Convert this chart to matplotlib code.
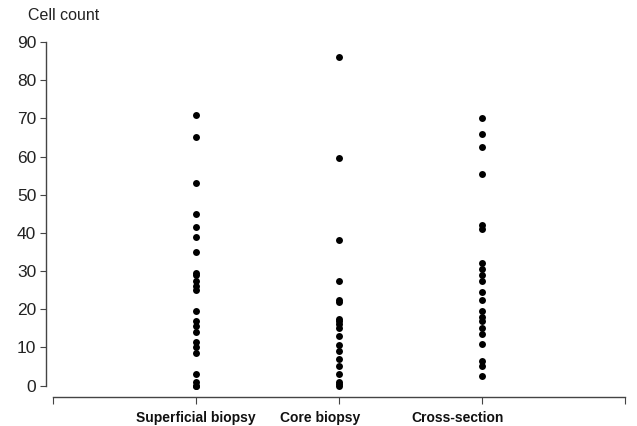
import matplotlib.pyplot as plt
import matplotlib.transforms as mtransforms

plt.rcParams['font.family'] = ['Liberation Sans', 'DejaVu Sans']

# data
categories = ["Superficial biopsy", "Core biopsy", "Cross-section"]
superficial = [71, 65, 53, 45, 41.5, 39, 35, 29.5, 29, 27.5, 26, 25,
               19.5, 17, 15.5, 14, 11.5, 10, 8.5, 3, 1, 0, 0]
core = [86, 59.5, 38, 27.5, 22.5, 22, 17.5, 17, 16, 15, 13, 10.5,
        9, 7, 5, 3, 1, 0.5, 0]
cross = [70, 66, 62.5, 55.5, 42, 41, 32, 30.5, 29, 27.5, 24.5, 22.5,
         19.5, 18, 17, 15, 13.5, 11, 6.5, 5, 2.5]
groups = [superficial, core, cross]
yticks = list(range(0, 100, 10))

fig = plt.figure(figsize=(6.37, 4.26), dpi=100)
ax = fig.add_axes([0.0832, 0.0681, 0.8978, 0.8333])

for i, vals in enumerate(groups):
    ax.plot([i + 1] * len(vals), vals, 'o', color='black', markersize=5, markeredgewidth=0)

ax.set_xlim(0, 4)
ax.set_ylim(-3, 90)

for s in ['top', 'right']:
    ax.spines[s].set_visible(False)
ax.spines['left'].set_bounds(0, 90)
ax.spines['left'].set_position(('outward', 5))
ax.spines['bottom'].set_bounds(0, 4)
for s in ['left', 'bottom']:
    ax.spines[s].set_color('#444444')
    ax.spines[s].set_linewidth(1.0)

ax.set_yticks(yticks)
ax.set_yticklabels([str(t) for t in yticks], fontsize=12.5, color='#222222')
ax.tick_params(axis='y', direction='out', length=4, pad=3, color='#444444')

ax.set_xticks([0, 1, 2, 3, 4])
ax.set_xticklabels([])
ax.tick_params(axis='x', direction='out', length=5, color='#444444')

# category labels sit a little left of the ticks for the 2nd and 3rd group
label_x = [1.0, 1.87, 2.83]
for x, name in zip(label_x, categories):
    ax.text(x, -0.04, name, transform=mtransforms.blended_transform_factory(ax.transData, ax.transAxes),
            ha='center', va='top', fontsize=10, fontweight='bold', color='#111111')

fig.text(28 / 637, 1 - 16 / 426, "Cell count", ha='left', va='center', fontsize=11.5, color='#222222')

fig.savefig('out.png', dpi=100)
